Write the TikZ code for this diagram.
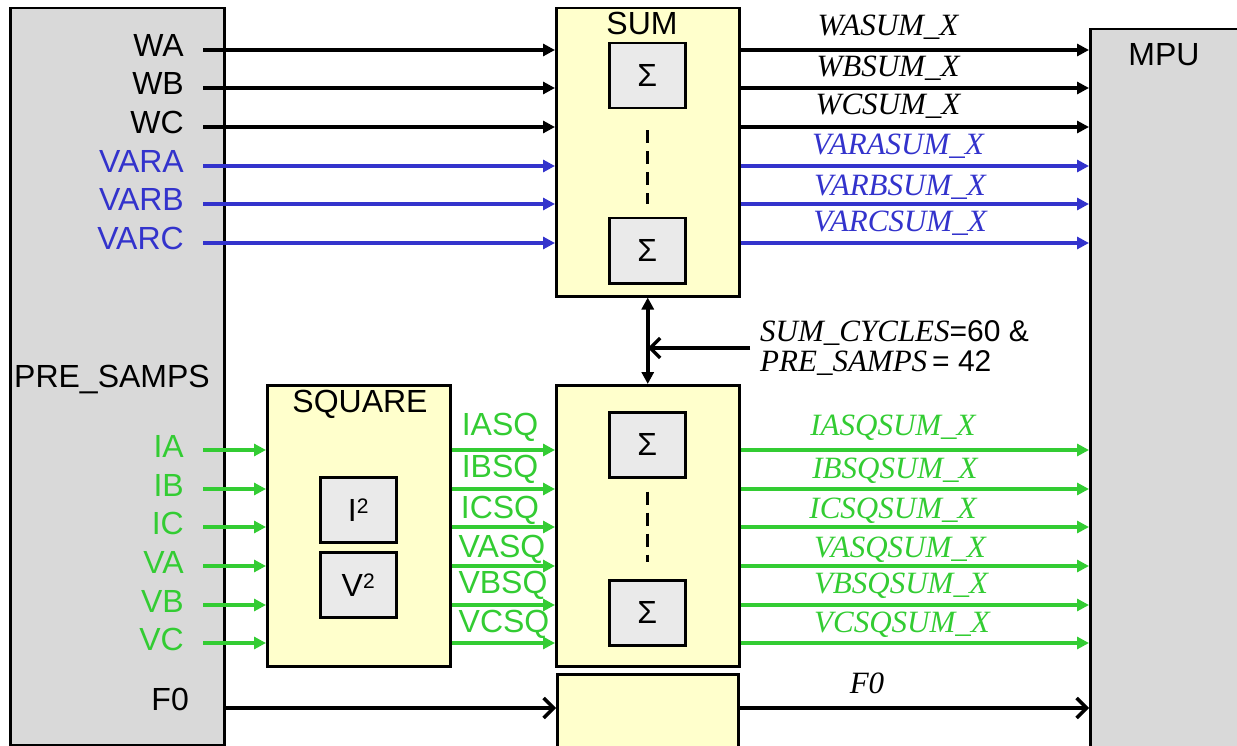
\documentclass[tikz,border=0pt]{standalone}
\usepackage{fontspec}
\setmainfont{Liberation Sans}
\newfontfamily\tmsfont{Liberation Serif}
\usetikzlibrary{arrows.meta}
\definecolor{sigblue}{RGB}{51,51,204}
\definecolor{siggreen}{RGB}{51,204,51}
\definecolor{boxgray}{RGB}{217,217,217}
\definecolor{boxyellow}{RGB}{255,255,204}
\definecolor{cellgray}{RGB}{234,234,234}

\tikzset{
  unitbox/.style={draw, line width=2.5pt, fill=boxgray, inner sep=0pt, anchor=north west},
  blockbox/.style={draw, line width=2.5pt, fill=boxyellow, inner sep=0pt, anchor=north west},
  cellbox/.style={draw, line width=2.5pt, fill=cellgray, inner sep=0pt, anchor=north west,
    minimum width=76pt, minimum height=65pt, font=\fontsize{32}{32}\selectfont},
  lbl/.style={inner sep=0pt, anchor=base east, font=\fontsize{32}{32}\selectfont},
  boxlbl/.style={inner sep=0pt, anchor=base, font=\fontsize{32}{32}\selectfont},
  outlbl/.style={inner sep=0pt, anchor=base, font=\fontsize{31}{31}\selectfont\tmsfont\itshape},
  sigline/.style={line width=3.5pt, -{Triangle[length=12pt,width=12pt]}},
  openline/.style={line width=3.5pt, -{Straight Barb[length=10pt,width=20pt]}},
  dashline/.style={line width=3.5pt, dash pattern=on 13pt off 8pt},
}

\begin{document}
\begin{tikzpicture}[x=1pt, y=-1pt]
  \useasboundingbox (0,0) rectangle (1237,746);

  % units and blocks
  \node[unitbox, minimum width=214pt, minimum height=737pt] (pre) at (9,7) {};
  \node[unitbox, minimum width=170pt, minimum height=740pt] (mpu) at (1089,28) {};
  \node[blockbox, minimum width=183pt, minimum height=288pt] (sumw) at (555,7) {};
  \node[blockbox, minimum width=183pt, minimum height=281pt] (sumsq) at (555,384) {};
  \node[blockbox, minimum width=183pt, minimum height=281pt] (square) at (266,384) {};
  \node[blockbox, minimum width=181pt, minimum height=90pt] (f0box) at (556,673) {};

  \node[boxlbl] (sumlbl) at (642,35) {SUM};
  \node[boxlbl] (sqlbl) at (360,412) {SQUARE};
  \node[boxlbl] (mpulbl) at (1164,66) {MPU};
  \node[inner sep=0pt, anchor=base west, font=\fontsize{32}{32}\selectfont] (prelbl) at (14,387) {PRE\_SAMPS};

  % summing cells
  \node[cellbox] (sw1) at (608,42) {Σ};
  \node[cellbox] (sw2) at (608,217) {Σ};
  \node[cellbox] (ssq1) at (608,411) {Σ};
  \node[cellbox] (ssq2) at (608,579) {Σ};
  \draw[dashline] ([yshift=-21pt]sw1.south) -- ([yshift=13pt]sw2.north);
  \draw[dashline] ([yshift=-13pt]ssq1.south) -- ([yshift=17pt]ssq2.north);

  % squaring cells
  \node[cellbox] (isq) at (319,476) {I\raisebox{8pt}{\fontsize{21}{21}\selectfont 2}};
  \node[cellbox] (vsq) at (319,551) {V\raisebox{8pt}{\fontsize{21}{21}\selectfont 2}};

  % W and VAR rows
  \foreach \nm/\y/\col in {WA/50/black, WB/88/black, WC/127/black,
      VARA/166/sigblue, VARB/204/sigblue, VARC/243/sigblue}{
    \node[lbl, text=\col] (lbl-\nm) at (184,\y+7) {\nm};
    \coordinate (in-\nm) at (203,\y);
    \draw[sigline, color=\col] (in-\nm) -- (in-\nm -| sumw.west);
    \draw[sigline, color=\col] (in-\nm -| sumw.east) -- (in-\nm -| mpu.west);
  }
  \foreach \nm/\x/\y/\col in {WASUM/888/36/black, WBSUM/888/77/black, WCSUM/888/115/black,
      VARASUM/898/155/sigblue, VARBSUM/900/196/sigblue, VARCSUM/900/232/sigblue}{
    \node[outlbl, text=\col] (out-\nm) at (\x,\y) {\nm\_X};
  }

  % I and V rows
  \foreach \nm/\y/\x/\b in {IA/450/500/435, IB/489/500/477, IC/527/500/518,
      VA/566/502/557, VB/605/503/593, VC/643/504/632}{
    \node[lbl, text=siggreen] (lbl-\nm) at (184,\y+7) {\nm};
    \coordinate (in-\nm) at (203,\y);
    \draw[sigline, color=siggreen] (in-\nm) -- (in-\nm -| square.west);
    \draw[sigline, color=siggreen] (in-\nm -| square.east) -- (in-\nm -| sumsq.west);
    \node[boxlbl, text=siggreen] (sq-\nm) at (\x,\b) {\nm SQ};
    \draw[sigline, color=siggreen] (in-\nm -| sumsq.east) -- (in-\nm -| mpu.west);
  }
  \foreach \nm/\x/\y in {IASQSUM/893/435, IBSQSUM/895/478, ICSQSUM/893/518,
      VASQSUM/900/557, VBSQSUM/901/593, VCSQSUM/902/632}{
    \node[outlbl, text=siggreen] (out-\nm) at (\x,\y) {\nm\_X};
  }

  % cycle control
  \draw[line width=3.5pt, {Triangle[length=12pt,width=12pt]}-{Triangle[length=12pt,width=12pt]}]
    (sumw.south) -- (sumsq.north);
  \coordinate (cyc-s) at (750,348);
  \draw[openline] (cyc-s) -- (cyc-s -| sumw.south);
  \node[inner sep=0pt, anchor=base west, font=\fontsize{30}{30}\selectfont] (cyc1) at (760,341)
    {{\fontsize{31}{31}\selectfont\tmsfont\itshape SUM\_CYCLES}=60 \&};
  \node[inner sep=0pt, anchor=base west, font=\fontsize{30}{30}\selectfont] (cyc2) at (760,371)
    {{\fontsize{31}{31}\selectfont\tmsfont\itshape PRE\_SAMPS}\,= 42};

  % F0
  \node[lbl] (lbl-F0) at (189,710) {F0};
  \coordinate (f0-s) at (224,708);
  \draw[openline] (f0-s) -- (f0-s -| f0box.west);
  \draw[openline] (f0-s -| f0box.east) -- (f0-s -| mpu.west);
  \node[outlbl] (out-F0) at (867,693) {F0};
\end{tikzpicture}
\end{document}
